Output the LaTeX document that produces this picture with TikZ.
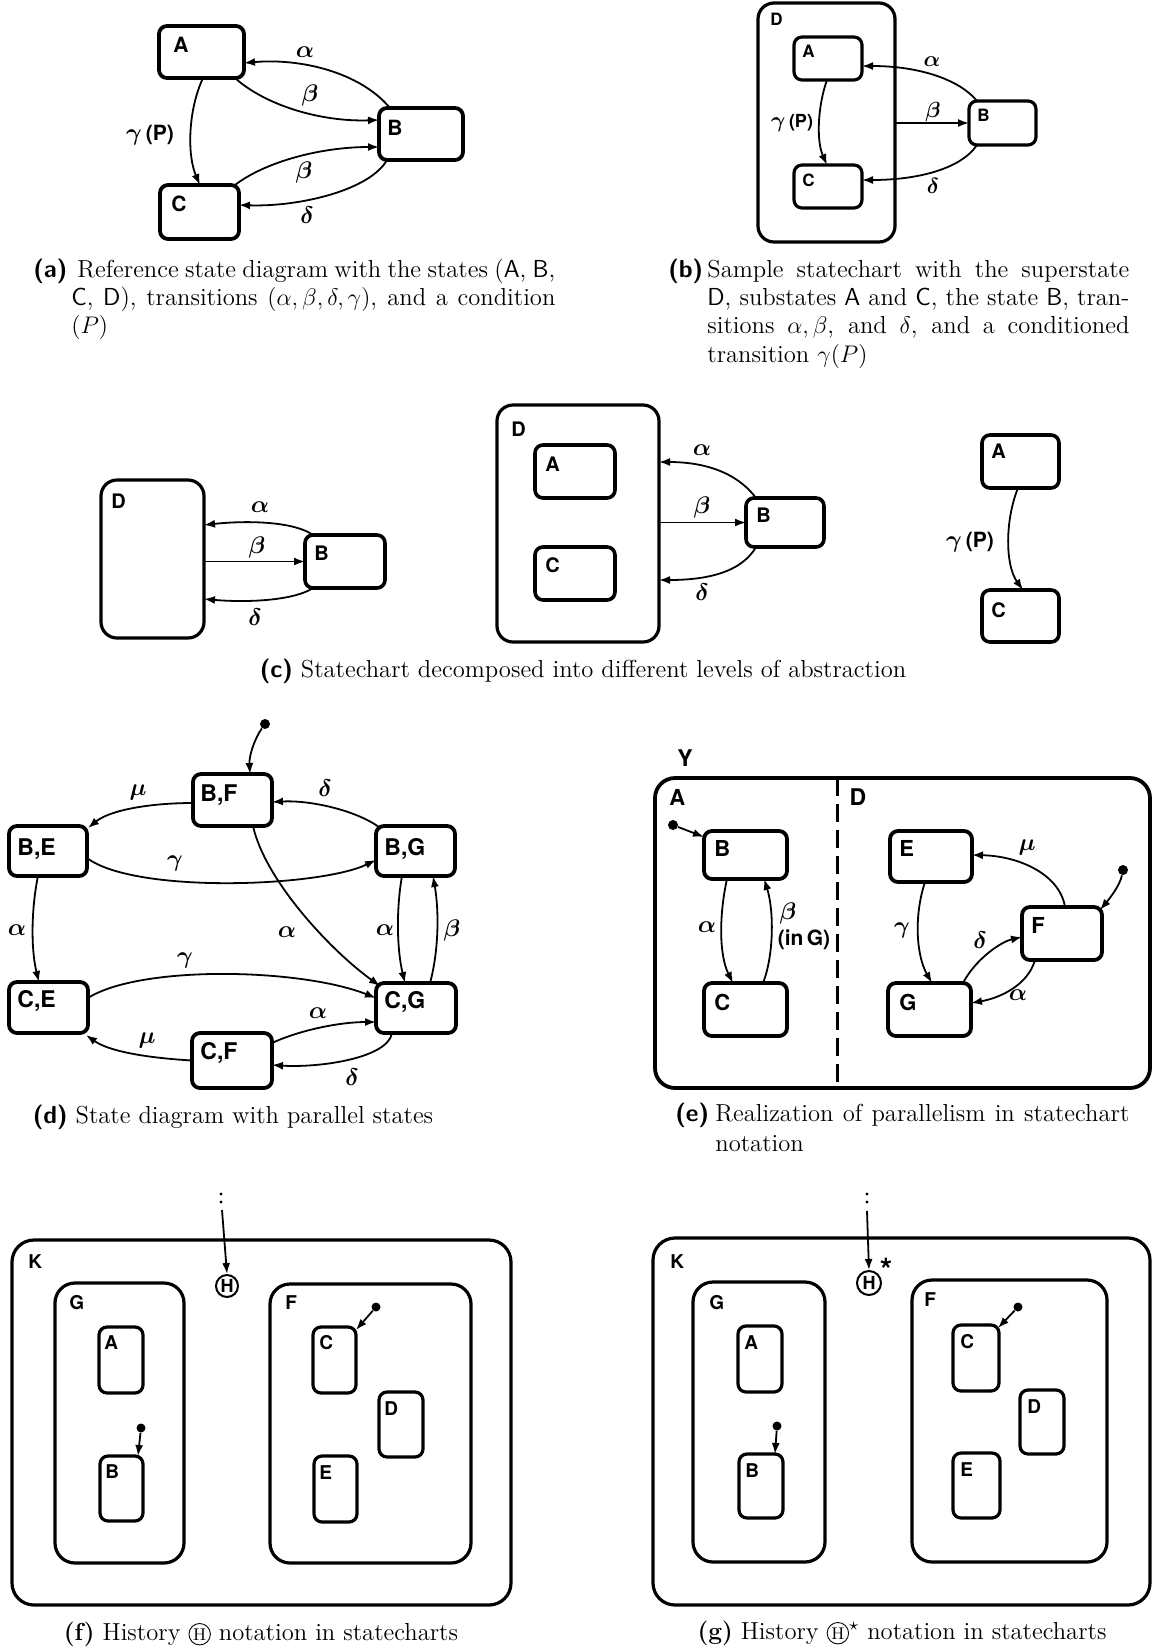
\documentclass[tikz,border=0pt]{standalone}
\usepackage{fontspec}
\newfontfamily\hv{TeX Gyre Heros}
\usetikzlibrary{arrows.meta,calc}
\newcommand{\stt}[9][]{%
  \pgfmathsetmacro{\stW}{(#5-#3)*0.5}%
  \pgfmathsetmacro{\stH}{(#6-#4)*0.5}%
  \node[sbox,minimum width=\stW pt,minimum height=\stH pt,#1] (#2) at ({(#3+#5)/2},{(#4+#6)/2}) {};%
  \node[lbl] (#2-l) at ($(#2.north west)+(#7,#8)$) {#9};}
\newcommand{\circH}{\tikz[baseline=(ch.base)]\node[draw,circle,inner sep=0.7pt,line width=0.45pt,font=\fontsize{8.5}{8.5}\selectfont](ch){H};}
\newcommand{\ppf}{\hv\bfseries\fontsize{10.5}{10.5}\selectfont}
\begin{document}
\begin{tikzpicture}[x=0.5pt,y=-0.5pt,
 sbox/.style={draw, rounded corners=4pt, line width=1.9pt, inner sep=0pt, outer sep=0pt},
 big/.style={rounded corners=8pt, line width=1.6pt},
 lbl/.style={inner sep=0pt, anchor=north west, font=\hv\bfseries\fontsize{10}{10}\selectfont},
 tr/.style={line width=0.9pt, -{Latex[length=5.5pt,width=4pt]}},
 gl/.style={inner sep=0pt, font=\boldmath\fontsize{12.5}{12.5}\selectfont},
 sl/.style={inner sep=0pt, font=\hv\bfseries\fontsize{11.5}{11.5}\selectfont},
 pp/.style={font=\hv\bfseries\fontsize{10.5}{10.5}\selectfont},
 idot/.style={circle, fill, inner sep=0pt, minimum size=5pt},
 sdot/.style={circle, fill, inner sep=0pt, minimum size=1.6pt},
 hist/.style={draw, circle, line width=1pt, inner sep=0pt, minimum size=11pt, font=\hv\bfseries\fontsize{9}{9}\selectfont},
 capt/.style={inner sep=0pt, anchor=base west, font=\fontsize{12.3}{14}\selectfont},
 capl/.style={inner sep=0pt, anchor=base west, font=\fontsize{12.3}{14}\selectfont\sffamily\bfseries},
 capc/.style={inner sep=0pt, anchor=base, font=\fontsize{12.3}{14}\selectfont},
]
\fill[white] (0,0) rectangle (1155,1650);
\useasboundingbox (0,0) rectangle (1155,1650);

% ---------------- (a)
\begin{scope}[lbl/.append style={font=\hv\bfseries\fontsize{10.5}{10.5}\selectfont}]
\stt{aA}{159}{26}{244}{78}{14}{11}{A}
\stt{aB}{379}{108}{463}{160}{8}{12}{B}
\stt{aC}{160}{185}{239}{239}{11}{11}{C}
\draw[tr] ($(aB.north west)+(11,0)$) .. controls (360,72) and (300,58) .. ($(aA.east)+(0,11)$);
\draw[tr] ($(aA.south east)+(-9,0)$) .. controls (265,105) and (320,122) .. ($(aB.west)+(0,-14)$);
\draw[tr] ($(aC.north east)+(-4,0)$) .. controls (265,162) and (320,147) .. ($(aB.west)+(0,13)$);
\draw[tr] ($(aB.south west)+(8,0)$) .. controls (370,190) and (300,207) .. ($(aC.east)+(0,-7)$);
\draw[tr] ($(aA.south)+(1.5,0)$) .. controls (188,110) and (187,155) .. ($(aC.north)+(0.5,0)$);
\node[gl] (aLa) at (305,52) {$\alpha$};
\node[gl] (aLb1) at (310,95) {$\beta$};
\node[gl] (aLb2) at (304,172) {$\beta$};
\node[gl] (aLd) at (307,215) {$\delta$};
\node[gl] (aLg) at (150,135) {$\gamma$\,{\ppf(P)}};
\end{scope}
\node[capl] (capAl) at (33,277) {(a)};
\node[capt] (capA1) at (77,277) {\makebox[239pt][s]{Reference state diagram with the states (\textsf{A}, \textsf{B},}};
\node[capt] (capA2) at (71,305) {\makebox[242pt][s]{\textsf{C}, \textsf{D}), transitions $(\alpha,\beta,\delta,\gamma)$, and a condition}};
\node[capt] (capA3) at (71,333) {$(P)$};

% ---------------- (b)
\begin{scope}[lbl/.append style={font=\hv\bfseries\fontsize{8.5}{8.5}\selectfont}, gl/.append style={font=\boldmath\fontsize{11}{11}\selectfont}]
\stt[big, line width=1.6pt]{bD}{758}{3}{895}{242}{12}{10}{D}
\stt[line width=1.6pt]{bA}{794}{37}{862}{80}{8}{8}{A}
\stt[line width=1.6pt]{bC}{794}{165}{862}{208}{8}{8}{C}
\stt[line width=1.6pt]{bB}{969}{101}{1036}{145}{8}{8}{B}
\draw[tr] ($(bB.north west)+(8,0)$) .. controls (960,80) and (920,66) .. ($(bA.east)+(0,7.5)$);
\draw[tr] (bB.west -| bD.east) -- (bB.west);
\draw[tr] ($(bB.south west)+(8,0)$) .. controls (960,170) and (915,180) .. ($(bC.east)+(0,-6.5)$);
\draw[tr] ($(bA.south)+(-1,0)$) .. controls (818,105) and (816,140) .. ($(bC.north)+(-1,0)$);
\node[gl] (bLa) at (932,62) {$\alpha$};
\node[gl] (bLb) at (933,112) {$\beta$};
\node[gl] (bLd) at (933,186) {$\delta$};
\node[gl] (bLg) at (792,123) {$\gamma$\,{\hv\bfseries\fontsize{9}{9}\selectfont(P)}};
\end{scope}
\node[capl] (capBl) at (668,277) {(b)};
\node[capt] (capB1) at (707,277) {\makebox[211pt][s]{Sample statechart with the superstate}};
\node[capt] (capB2) at (707,305) {\makebox[211pt][s]{\textsf{D}, substates \textsf{A} and \textsf{C}, the state \textsf{B}, tran-}};
\node[capt] (capB3) at (707,333) {\makebox[211pt][s]{sitions $\alpha,\beta$, and $\delta$, and a conditioned}};
\node[capt] (capB4) at (707,362) {transition $\gamma(P)$};

% ---------------- (c)
\begin{scope}[lbl/.append style={font=\hv\bfseries\fontsize{10}{10}\selectfont}]
\stt[big]{cD}{101}{480}{204}{638}{10}{14}{D}
\stt[line width=1.8pt]{cB}{305}{535}{385}{588}{9}{11}{B}
\draw[tr] ($(cB.north west)+(8,0)$) .. controls (295,522) and (250,520) .. ($(cD.east)+(0,-34)$);
\draw[tr] (cB.west -| cD.east) -- (cB.west);
\draw[tr] ($(cB.south west)+(8,0)$) .. controls (295,600) and (250,603) .. ($(cD.east)+(0,40)$);
\node[gl] (cLa) at (260,507) {$\alpha$};
\node[gl] (cLb) at (257,547) {$\beta$};
\node[gl] (cLd) at (255,617) {$\delta$};

\stt[big]{cmD}{497}{405}{659}{642}{14}{17}{D}
\stt[line width=1.8pt]{cmA}{535}{445}{615}{498}{10}{12}{A}
\stt[line width=1.8pt]{cmC}{535}{547}{615}{600}{10}{10}{C}
\stt[line width=1.8pt]{cmB}{746}{498}{824}{547}{10}{10}{B}
\draw[tr] ($(cmB.north west)+(10,0)$) .. controls (735,470) and (700,462) .. ($(cmD.east)+(0,-61.5)$);
\draw[tr] (cmB.west -| cmD.east) -- (cmB.west);
\draw[tr] ($(cmB.south west)+(10,0)$) .. controls (740,575) and (700,580) .. ($(cmD.east)+(0,56.5)$);
\node[gl] (cmLa) at (702,450) {$\alpha$};
\node[gl] (cmLb) at (702,507) {$\beta$};
\node[gl] (cmLd) at (702,592) {$\delta$};

\stt[line width=1.8pt]{crA}{982}{435}{1059}{488}{9}{9}{A}
\stt[line width=1.8pt]{crC}{982}{590}{1059}{642}{9}{12}{C}
\draw[tr] ($(crA.south)+(-2.5,0)$) .. controls (1005,520) and (1005,565) .. ($(crC.north)+(2.5,0)$);
\node[gl] (crLg) at (970,542) {$\gamma$\,{\ppf(P)}};
\end{scope}
\node[capc] (capC) at (583,677) {{\sffamily\bfseries (c)} Statechart decomposed into different levels of abstraction};

% ---------------- (d)
\begin{scope}[lbl/.append style={font=\hv\bfseries\fontsize{11.5}{11.5}\selectfont}]
\stt{dBF}{193}{774}{272}{826}{7}{10}{B,F}
\stt{dBE}{9}{826}{87}{876}{8}{12}{B,E}
\stt{dBG}{376}{826}{455}{876}{8}{12}{B,G}
\stt{dCE}{9}{982}{88}{1033}{8}{8}{C,E}
\stt{dCG}{376}{983}{456}{1033}{8}{8}{C,G}
\stt{dCF}{192}{1033}{272}{1088}{8}{9}{C,F}
\node[idot] (dI) at (265,724) {};
\draw[tr] (dI) .. controls (255,738) and (249,755) .. ($(dBF.north)+(17.5,0)$);
\draw[tr] ($(dBF.west)+(0,3)$) .. controls (150,803) and (110,810) .. ($(dBE.north east)+(1,2)$);
\draw[tr] ($(dBG.north west)+(3,1)$) .. controls (355,810) and (310,800) .. ($(dBF.east)+(0,2)$);
\draw[tr] ($(dBE.east)+(0,7)$) .. controls (135,894) and (320,887) .. ($(dBG.west)+(0,9)$);
\draw[tr] ($(dBF.south)+(20.5,0)$) .. controls (265,880) and (330,950) .. ($(dCG.north west)+(4,3)$);
\draw[tr] ($(dBE.south)+(-10,0)$) .. controls (31,910) and (31,950) .. ($(dCE.north)+(-9.5,0)$);
\draw[tr] ($(dBG.south)+(-13.5,0)$) .. controls (396,910) and (397,950) .. ($(dCG.north)+(-11,0)$);
\draw[tr] ($(dCG.north)+(14,0)$) .. controls (439,950) and (439,910) .. ($(dBG.south)+(17.5,0)$);
\draw[tr] ($(dCE.east)+(0,-9.5)$) .. controls (140,965) and (300,968) .. ($(dCG.west)+(0,-10)$);
\draw[tr] (dCF.west) .. controls (150,1058) and (110,1052) .. ($(dCE.south east)+(-2,2)$);
\draw[tr] ($(dCF.east)+(0,-17.5)$) .. controls (300,1030) and (340,1022) .. ($(dCG.west)+(0,14)$);
\draw[tr] ($(dCG.south west)+(16,0)$) .. controls (388,1058) and (320,1068) .. ($(dCF.east)+(0,4.5)$);
\node[gl] (dL1) at (138,792) {$\mu$};
\node[gl] (dL2) at (325,788) {$\delta$};
\node[gl] (dL3) at (175,863) {$\gamma$};
\node[gl] (dL4) at (287,932) {$\alpha$};
\node[gl] (dL5) at (17,930) {$\alpha$};
\node[gl] (dL6) at (385,930) {$\alpha$};
\node[gl] (dL7) at (452,930) {$\beta$};
\node[gl] (dL8) at (185,960) {$\gamma$};
\node[gl] (dL9) at (147,1040) {$\mu$};
\node[gl] (dL10) at (318,1013) {$\alpha$};
\node[gl] (dL11) at (352,1077) {$\delta$};
\end{scope}
\node[capc] (capD) at (233,1123) {{\sffamily\bfseries (d)} State diagram with parallel states};

% ---------------- (e)
\begin{scope}[lbl/.append style={font=\hv\bfseries\fontsize{11}{11}\selectfont}]
\node[sl] (eYl) at (685,758) {Y};
\stt[big, line width=1.9pt, rounded corners=10pt, lbl/.append style={font=\hv\bfseries\fontsize{11.5}{11.5}\selectfont}]{eY}{655}{778}{1150}{1088}{14}{11}{A}
\coordinate (eDt) at (837,778);
\coordinate (eDb) at (837,1088);
\draw[line width=1.5pt, dash pattern=on 9pt off 4pt] (eDt) -- (eDb);
\node[sl] (eDl) at (858,797) {D};
\stt{eB}{704}{831}{787}{879}{10}{9}{B}
\stt{eC}{704}{983}{787}{1036}{10}{11}{C}
\stt{eE}{890}{831}{972}{882}{9}{9}{E}
\stt{eG}{888}{983}{971}{1036}{11}{11}{G}
\stt{eF}{1022}{907}{1102}{960}{9}{10}{F}
\node[idot] (eI1) at (673,825) {};
\draw[tr] (eI1) -- ($(eB.north west)+(0,6)$);
\draw[tr] ($(eB.south)+(-18.5,0)$) .. controls (719,915) and (719,955) .. ($(eC.north)+(-12.5,0)$);
\draw[tr] ($(eC.north)+(17.5,0)$) .. controls (774,955) and (774,910) .. ($(eB.south)+(18.5,0)$);
\node[gl] (eLa) at (707,927) {$\alpha$};
\node[gl] (eLb) at (788,913) {$\beta$};
\node[pp, inner sep=0pt] (eLin) at (804,940) {(in\,G)};
\node[idot] (eI2) at (1123,870) {};
\draw[tr] (eI2) .. controls (1120,885) and (1110,898) .. ($(eF.north east)+(-2,3)$);
\draw[tr] ($(eF.north)+(3,0)$) .. controls (1060,875) and (1020,856) .. ($(eE.east)+(0,-1.5)$);
\draw[tr] ($(eE.south)+(-6,0)$) .. controls (914,915) and (916,955) .. ($(eG.north)+(2.5,0)$);
\draw[tr] ($(eG.north east)+(-8,0)$) .. controls (975,960) and (1000,942) .. ($(eF.west)+(0,3.5)$);
\draw[tr] ($(eF.south west)+(13,0)$) .. controls (1028,985) and (1000,998) .. ($(eG.east)+(0,-6.5)$);
\node[gl] (eLm) at (1027,847) {$\mu$};
\node[gl] (eLg) at (902,930) {$\gamma$};
\node[gl] (eLd) at (980,940) {$\delta$};
\node[gl] (eLa2) at (1018,995) {$\alpha$};
\end{scope}
\node[capl] (capEl) at (675,1121) {(e)};
\node[capt] (capE1) at (715,1121) {\makebox[207pt][s]{Realization of parallelism in statechart}};
\node[capt] (capE2) at (715,1151) {notation};

% ---------------- (f)
\begin{scope}[sbox/.append style={line width=1.6pt}, lbl/.append style={font=\hv\bfseries\fontsize{9.5}{9.5}\selectfont}]
\stt[big, rounded corners=11pt, lbl/.append style={font=\hv\bfseries\fontsize{12}{12}\selectfont}]{fK}{12}{1240}{511}{1605}{16}{14}{K}
\stt[big, rounded corners=10pt, lbl/.append style={font=\hv\bfseries\fontsize{11}{11}\selectfont}]{fG}{55}{1283}{184}{1563}{14}{12}{G}
\stt[big, rounded corners=10pt, lbl/.append style={font=\hv\bfseries\fontsize{11}{11}\selectfont}]{fF}{270}{1284}{471}{1563}{15}{11}{F}
\stt{fA}{99}{1327}{143}{1393}{5}{8}{A}
\stt{fB}{100}{1456}{143}{1521}{5}{8}{B}
\stt{fC}{313}{1327}{356}{1393}{6}{8}{C}
\stt{fD}{379}{1392}{423}{1457}{5}{9}{D}
\stt{fE}{314}{1456}{357}{1522}{5}{9}{E}
\node[hist] (fH) at (227,1286) {H};
\node[sdot] (fd1) at (221,1194) {};
\node[sdot] (fd2) at (221,1202) {};
\coordinate (fS) at (222,1210);
\draw[tr] (fS) -- (fH.north);
\node[idot, minimum size=4.5pt] (fIB) at (141,1428) {};
\draw[tr] (fIB) -- ($(fB.north east)+(-5,0)$);
\node[idot, minimum size=4.5pt] (fIC) at (376,1307) {};
\draw[tr] (fIC) -- ($(fC.north east)+(0,3)$);
\end{scope}
\node[capc] (capF) at (261,1640) {\textbf{(f)} History \circH{} notation in statecharts};

% ---------------- (g)
\begin{scope}[sbox/.append style={line width=1.6pt}, lbl/.append style={font=\hv\bfseries\fontsize{9.5}{9.5}\selectfont}]
\stt[big, rounded corners=11pt, lbl/.append style={font=\hv\bfseries\fontsize{12}{12}\selectfont}]{gK}{653}{1238}{1150}{1605}{17}{16}{K}
\stt[big, rounded corners=10pt, lbl/.append style={font=\hv\bfseries\fontsize{11}{11}\selectfont}]{gG}{693}{1282}{825}{1562}{16}{13}{G}
\stt[big, rounded corners=10pt, lbl/.append style={font=\hv\bfseries\fontsize{11}{11}\selectfont}]{gF}{912}{1280}{1107}{1562}{12}{12}{F}
\stt{gA}{738}{1326}{782}{1392}{6}{9}{A}
\stt{gB}{739}{1454}{783}{1518}{6}{9}{B}
\stt{gC}{953}{1325}{999}{1391}{7}{9}{C}
\stt{gD}{1020}{1390}{1064}{1454}{7}{9}{D}
\stt{gE}{953}{1453}{1000}{1518}{7}{9}{E}
\node[hist, minimum size=12pt] (gH) at (869,1283) {H};
\node[inner sep=0pt, font=\hv\bfseries\fontsize{16}{16}\selectfont] (gStar) at (886,1270) {*};
\node[sdot] (gd1) at (867,1194) {};
\node[sdot] (gd2) at (867,1202) {};
\coordinate (gS) at (867,1211);
\draw[tr] (gS) -- (gH.north);
\node[idot, minimum size=4.5pt] (gIB) at (777,1426) {};
\draw[tr] (gIB) -- ($(gB.north east)+(-8,0)$);
\node[idot, minimum size=4.5pt] (gIC) at (1018,1307) {};
\draw[tr] (gIC) -- ($(gC.north east)+(-1,3)$);
\end{scope}
\node[capc] (capG) at (902,1639) {\textbf{(g)} History \circH$^\star$ notation in statecharts};
\end{tikzpicture}
\end{document}
